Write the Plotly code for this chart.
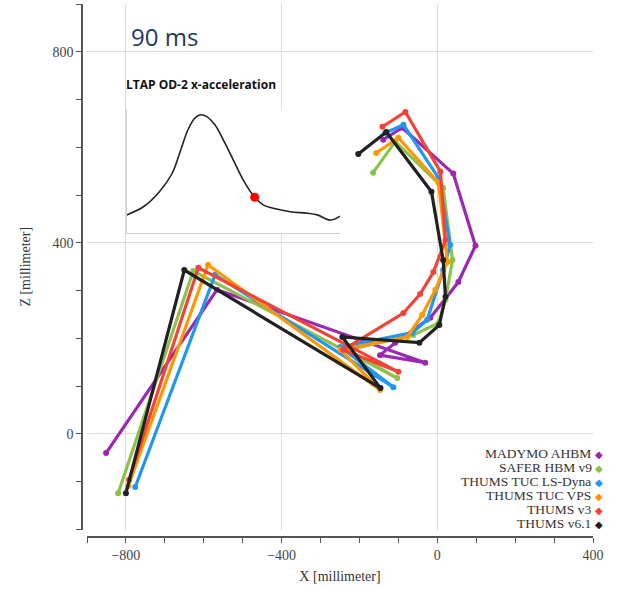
import plotly.graph_objects as go

# joint chain, ankle -> knee -> hip -> pelvis -> spine -> head, in mm
names = ["MADYMO AHBM", "SAFER HBM v9", "THUMS TUC LS-Dyna",
         "THUMS TUC VPS", "THUMS v3", "THUMS v6.1"]
colors = ["#9c27b0", "#8bc34a", "#2196f3", "#ff9800", "#f44336", "#212121"]

madymo_x = [-851, -566, -31, -147, -108, -18, 54, 98, 41, -90, -139]
madymo_z = [-40, 302, 149, 165, 191, 243, 318, 394, 545, 641, 616]

safer_x = [-820, -627, -103, -229, -62, 3, 21, 39, 15, -108, -165]
safer_z = [-124, 341, 117, 176, 207, 232, 281, 364, 515, 612, 547]

tuc_ls_x = [-776, -571, -113, -249, -64, -26, 15, 33, 3, -87, -134]
tuc_ls_z = [-111, 333, 98, 182, 212, 239, 343, 396, 536, 647, 630]

tuc_vps_x = [-794, -589, -147, -249, -77, -39, -5, 26, 3, -100, -157]
tuc_vps_z = [-109, 354, 92, 176, 203, 249, 302, 360, 526, 620, 588]

thums3_x = [-792, -614, -100, -242, -87, -44, -10, 21, 8, -82, -141]
thums3_z = [-96, 348, 130, 176, 253, 293, 339, 406, 549, 674, 643]

thums61_x = [-800, -650, -146, -244, -46, 5, 21, 15, -15, -131, -203]
thums61_z = [-124, 343, 96, 203, 191, 228, 287, 364, 507, 632, 586]

series_x = [madymo_x, safer_x, tuc_ls_x, tuc_vps_x, thums3_x, thums61_x]
series_z = [madymo_z, safer_z, tuc_ls_z, tuc_vps_z, thums3_z, thums61_z]

# inset: LTAP OD-2 x-acceleration pulse
pulse_t = [0, 12, 23, 32, 38, 43, 48, 52, 56, 62, 68, 75, 82, 90, 96, 103, 115, 127, 134, 143, 150]
pulse_a = [4.6, 6.7, 10.4, 15, 20.8, 25.8, 28.8, 29.6, 29.2, 27.1, 23.3, 18.3, 13.3, 9, 7.1, 6.25, 5.4, 5, 4.6, 3.3, 4.3]
current_t = 90

serif = "Liberation Serif"

fig = go.Figure()

for name, c, xs, zs in zip(names, colors, series_x, series_z):
    fig.add_trace(go.Scatter(
        x=xs, y=zs, mode="lines+markers", name=name,
        line=dict(color=c, width=3.2),
        marker=dict(color=c, size=6),
        showlegend=False,
        xaxis="x", yaxis="y",
    ))

fig.add_trace(go.Scatter(
    x=pulse_t, y=pulse_a, mode="lines",
    line=dict(color="#222", width=1.6, shape="spline"),
    showlegend=False, xaxis="x2", yaxis="y2",
))
k = pulse_t.index(current_t)
fig.add_trace(go.Scatter(
    x=[pulse_t[k]], y=[pulse_a[k]], mode="markers",
    marker=dict(color="#ff0000", size=9),
    showlegend=False, xaxis="x2", yaxis="y2",
))

axis_common = dict(
    showline=True, linecolor="#555", linewidth=1.5,
    ticks="outside", ticklen=5, tickcolor="#555",
    showgrid=True, gridcolor="#dcdcdc", gridwidth=1,
    zeroline=False, automargin=False,
    tickfont=dict(family=serif, size=14, color="#444"),
)

fig.update_layout(
    width=618, height=589,
    margin=dict(l=82, r=25, t=4, b=52),
    paper_bgcolor="white", plot_bgcolor="white",
    xaxis=dict(
        axis_common, range=[-900, 400], domain=[5 / 511, 1],
        anchor="free", position=0,
        tick0=0, dtick=400,
        minor=dict(dtick=100, ticks="outside", ticklen=5, tickcolor="#555", showgrid=False),
        title=dict(text="X [millimeter]", font=dict(family=serif, size=14, color="#333"), standoff=9),
    ),
    yaxis=dict(
        axis_common, range=[-200, 900], domain=[7.5 / 533, 1],
        anchor="free", position=0,
        tick0=0, dtick=400,
        minor=dict(dtick=100, ticks="outside", ticklen=5, tickcolor="#555", showgrid=False),
        title=dict(text="Z [millimeter]", font=dict(family=serif, size=14, color="#333"), standoff=18),
    ),
    xaxis2=dict(
        domain=[44.7 / 511, 258 / 511], anchor="y2", range=[0, 150],
        showline=True, linecolor="#d0d0d0", linewidth=1.2, automargin=False,
        showgrid=False, zeroline=False, showticklabels=False, ticks="",
    ),
    yaxis2=dict(
        domain=[(537 - 233.3) / 533, (537 - 110) / 533], anchor="x2", range=[0, 30.8],
        showline=True, linecolor="#d0d0d0", linewidth=1.2, automargin=False,
        showgrid=False, zeroline=False, showticklabels=False, ticks="",
    ),
    shapes=[dict(
        type="rect", xref="x2 domain", yref="y2 domain",
        x0=0.005, x1=1.03, y0=-0.03, y1=1.02,
        fillcolor="white", line=dict(width=0), layer="below",
    )],
)

fig.add_annotation(
    text="90 ms", xref="paper", yref="paper",
    x=47 / 511, y=(537 - 36) / 533, xanchor="left", yanchor="middle",
    showarrow=False, font=dict(family="Open Sans", size=24, color="#1f3864"),
)
fig.add_annotation(
    text="<b>LTAP OD-2 x-acceleration</b>", xref="paper", yref="paper",
    x=42 / 511, y=(537 - 85) / 533, xanchor="left", yanchor="middle",
    showarrow=False, font=dict(family="Open Sans", size=12, color="#111"),
)

# legend, text right aligned with the colour marker after it
for i, (name, c) in enumerate(zip(names, colors)):
    fig.add_annotation(
        text=f"{name} <span style='color:{c}; font-size:10px'>◆</span>",
        xref="paper", yref="paper",
        x=1.024, y=(537 - (453 + 14 * i)) / 533,
        xanchor="right", yanchor="middle", showarrow=False,
        font=dict(family=serif, size=13.5, color="#333"),
    )

# the page body has a default 8px margin, drop it so the figure sits at 0,0
fig.write_html("out.html", config={"displayModeBar": False},
               post_script="document.body.style.margin='0px';")
